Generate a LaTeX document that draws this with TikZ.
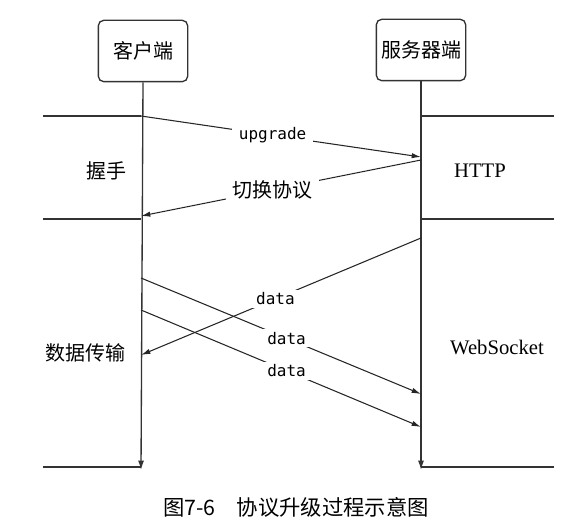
\documentclass[tikz,border=0pt]{standalone}
\usepackage{fontspec}
\setmainfont{Liberation Serif}
\setmonofont{DejaVu Sans Mono}
\newfontfamily\cjk{Noto Sans CJK SC}
\usetikzlibrary{arrows.meta, calc}

\tikzset{
  party/.style={draw=black!80, rounded corners=4pt, line width=1pt, minimum width=67pt,
    minimum height=46pt, inner sep=0pt, font=\cjk\fontsize{15}{18}\selectfont},
  lifeline/.style={draw=black!80, line width=1pt, -{Latex[length=7pt,width=4.5pt]}},
  phase/.style={draw=black!80, line width=1pt},
  msg/.style={draw=black!85, line width=0.8pt, -{Latex[length=7pt,width=4pt]}},
  msglabel/.style={fill=white, inner xsep=5pt, inner ysep=2pt, font=\ttfamily\fontsize{12}{14}\selectfont},
  cnlabel/.style={fill=white, inner xsep=5pt, inner ysep=2pt, font=\cjk\fontsize{15}{18}\selectfont},
  phaselabel/.style={font=\cjk\fontsize{15}{18}\selectfont},
  protolabel/.style={font=\fontsize{15.5}{18}\selectfont}
}

\begin{document}
\begin{tikzpicture}[x=0.75pt, y=-0.75pt]
  \useasboundingbox (0,0) rectangle (580,530);
  % the two parties
  \node[party] (client) at (143,51) {客户端};
  \node[party] (server) at (421,50) {服务器端};
  \coordinate (cend) at (141,470);
  \coordinate (send) at (421,470);
  \draw[lifeline] (client.south) -- (cend);
  \draw[lifeline] (server.south) -- (send);
  % phase borders
  \foreach \y in {116,219,467} {
    \draw[phase] (43,\y) -- (141,\y);
    \draw[phase] (421,\y) -- (554,\y);
  }
  \node[phaselabel] (hs) at (106,171) {握手};
  \node[phaselabel] (dt) at (85,353) {数据传输};
  \node[protolabel] (http) at (480,171) {HTTP};
  \node[protolabel] (ws) at (497,347) {WebSocket};
  % handshake
  \coordinate (c1) at (141,116);
  \coordinate (s1) at (421,157);
  \coordinate (s2) at (421,160);
  \coordinate (c2) at (141,216);
  \draw[msg] (c1) -- node[msglabel, pos=0.47] {upgrade} (s1);
  \draw[msg] (s2) -- node[cnlabel, pos=0.53] {切换协议} (c2);
  % data transfer
  \coordinate (s3) at (421,238);
  \coordinate (c3) at (141,355);
  \coordinate (c4) at (141,278);
  \coordinate (s4) at (421,394);
  \coordinate (c5) at (141,310);
  \coordinate (s5) at (421,427);
  \draw[msg] (s3) -- node[msglabel, pos=0.52] {data} (c3);
  \draw[msg] (c4) -- node[msglabel, pos=0.52] {data} (s4);
  \draw[msg] (c5) -- node[msglabel, pos=0.52] {data} (s5);
  % caption
  \node[font=\cjk\fontsize{16}{19}\selectfont] (caption) at (296,507) {图7-6\quad 协议升级过程示意图};
\end{tikzpicture}
\end{document}
